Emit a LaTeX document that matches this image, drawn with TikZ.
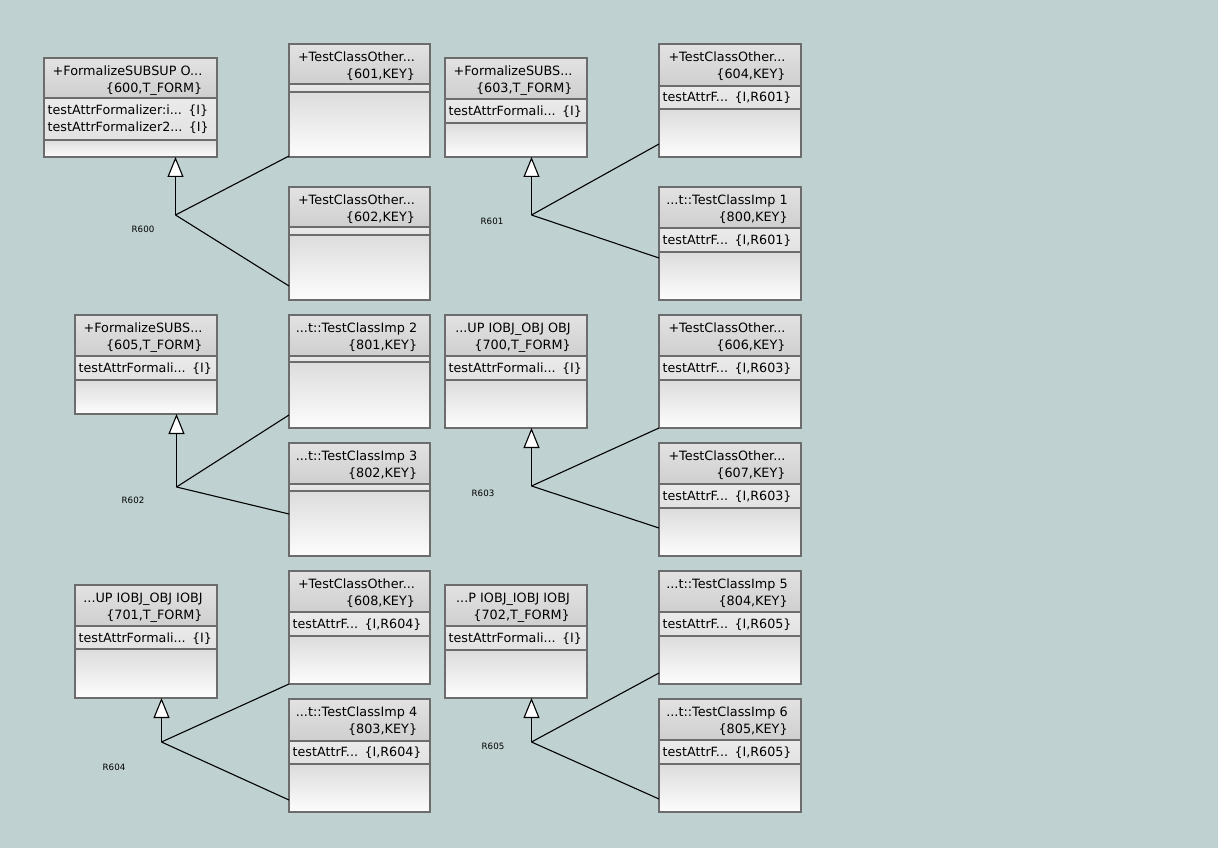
\documentclass[tikz,border=0pt]{standalone}
\usepackage{fontspec}
\setmainfont{DejaVu Sans}
\usetikzlibrary{arrows.meta,fit}

\definecolor{canvas}{RGB}{191,210,209}
\definecolor{headtop}{RGB}{226,226,226}
\definecolor{headbot}{RGB}{207,207,207}
\definecolor{attrtop}{RGB}{234,234,234}
\definecolor{attrbot}{RGB}{226,226,226}
\definecolor{bodytop}{RGB}{220,220,220}
\definecolor{bodybot}{RGB}{253,253,253}
\definecolor{framegray}{RGB}{108,108,108}

\tikzset{
  classframe/.style={draw=framegray, line width=1.5pt, inner sep=0pt, outer sep=0pt},
  divider/.style={draw=framegray, line width=1.5pt},
  headtext/.style={font=\fontsize{12.8}{15}\selectfont, inner sep=0pt, anchor=mid},
  attrtext/.style={font=\fontsize{12.7}{15}\selectfont, inner sep=0pt, anchor=mid west},
  genline/.style={draw=black, line width=1.1pt},
  genarrow/.style={genline, -{Triangle[length=20pt,width=16pt,fill=white]}},
  rlabel/.style={font=\fontsize{8.7}{10}\selectfont, inner sep=0pt},
}

% class box: name, left, top, right, header bottom, attribute bottom, bottom, title, key
\newcommand\umlclass[9]{%
  \shade[top color=headtop,bottom color=headbot] (#2,#3) rectangle (#4,#5);
  \shade[top color=attrtop,bottom color=attrbot] (#2,#5) rectangle (#4,#6);
  \shade[top color=bodytop,bottom color=bodybot] (#2,#6) rectangle (#4,#7);
  \draw[divider] (#2,#5) -- (#4,#5) (#2,#6) -- (#4,#6);
  \coordinate (#1-nw) at (#2,#3);
  \coordinate (#1-se) at (#4,#7);
  \node[classframe,fit=(#1-nw)(#1-se)] (#1) {};
  \node[headtext] (#1-title) at ({(#2+#4)/2-3},{#3+15}) {#8};
  \node[headtext,anchor=mid east] (#1-key) at ([yshift=-16.5pt]#1-title.mid east) {#9};
}

% attribute row: box, tag, left, y, name, value
\newcommand\umlattr[6]{%
  \node[attrtext] (#1-#2) at ({#3+3.5},{#4+1.5}) {#5};
  \node[attrtext] (#1-#2v) at ([xshift=6pt]#1-#2.mid east) {#6};
}

\begin{document}
\begin{tikzpicture}[x=1pt,y=-1pt]
\useasboundingbox (0,0) rectangle (1231,861);
\fill[white] (0,0) rectangle (1231,861);
\fill[canvas] (0,0) rectangle (1218,848);

% ---- row 1 ----
\umlclass{c600}{44}{58}{217}{98}{140}{157}{+FormalizeSUBSUP O...}{\{600,T\_FORM\}}
\umlattr{c600}{a}{44}{110.5}{testAttrFormalizer:i...}{\{I\}}
\umlattr{c600}{b}{44}{127.5}{testAttrFormalizer2...}{\{I\}}
\umlclass{c601}{289}{44}{430}{84}{92}{157}{+TestClassOther...}{\{601,KEY\}}
\umlclass{c602}{289}{187}{430}{227}{235}{300}{+TestClassOther...}{\{602,KEY\}}

\umlclass{c603}{445}{58}{587}{99}{123}{157}{+FormalizeSUBS...}{\{603,T\_FORM\}}
\umlattr{c603}{a}{445}{111}{testAttrFormali...}{\{I\}}
\umlclass{c604}{659}{44}{801}{86}{109}{157}{+TestClassOther...}{\{604,KEY\}}
\umlattr{c604}{a}{659}{97.5}{testAttrF...}{\{I,R601\}}
\umlclass{c800}{659}{187}{801}{228}{252}{300}{...t::TestClassImp 1}{\{800,KEY\}}
\umlattr{c800}{a}{659}{240}{testAttrF...}{\{I,R601\}}

% ---- row 2 ----
\umlclass{c605}{75}{315}{217}{356}{380}{414}{+FormalizeSUBS...}{\{605,T\_FORM\}}
\umlattr{c605}{a}{75}{368}{testAttrFormali...}{\{I\}}
\umlclass{c801}{289}{315}{430}{356}{362}{428}{...t::TestClassImp 2}{\{801,KEY\}}
\umlclass{c802}{289}{443}{430}{484}{491}{556}{...t::TestClassImp 3}{\{802,KEY\}}

\umlclass{c700}{445}{315}{587}{356}{380}{428}{...UP IOBJ\_OBJ OBJ}{\{700,T\_FORM\}}
\umlattr{c700}{a}{445}{368}{testAttrFormali...}{\{I\}}
\umlclass{c606}{659}{315}{801}{356}{380}{428}{+TestClassOther...}{\{606,KEY\}}
\umlattr{c606}{a}{659}{368}{testAttrF...}{\{I,R603\}}
\umlclass{c607}{659}{443}{801}{484}{508}{556}{+TestClassOther...}{\{607,KEY\}}
\umlattr{c607}{a}{659}{496}{testAttrF...}{\{I,R603\}}

% ---- row 3 ----
\umlclass{c701}{75}{585}{217}{626}{649}{698}{...UP IOBJ\_OBJ IOBJ}{\{701,T\_FORM\}}
\umlattr{c701}{a}{75}{638}{testAttrFormali...}{\{I\}}
\umlclass{c608}{289}{571}{430}{612}{636}{684}{+TestClassOther...}{\{608,KEY\}}
\umlattr{c608}{a}{289}{624}{testAttrF...}{\{I,R604\}}
\umlclass{c803}{289}{699}{430}{741}{764}{812}{...t::TestClassImp 4}{\{803,KEY\}}
\umlattr{c803}{a}{289}{752.5}{testAttrF...}{\{I,R604\}}

\umlclass{c702}{445}{585}{587}{626}{650}{698}{...P IOBJ\_IOBJ IOBJ}{\{702,T\_FORM\}}
\umlattr{c702}{a}{445}{638}{testAttrFormali...}{\{I\}}
\umlclass{c804}{659}{571}{801}{612}{636}{684}{...t::TestClassImp 5}{\{804,KEY\}}
\umlattr{c804}{a}{659}{624}{testAttrF...}{\{I,R605\}}
\umlclass{c805}{659}{699}{801}{740}{764}{812}{...t::TestClassImp 6}{\{805,KEY\}}
\umlattr{c805}{a}{659}{752}{testAttrF...}{\{I,R605\}}

% ---- generalisations ----
\coordinate (j600) at (175.5,215);
\draw[genarrow] (j600) -- (j600 |- c600.south);
\draw[genline] (j600) -- ([yshift=1pt]c601.south west);
\draw[genline] (j600) -- ([yshift=14pt]c602.south west);
\node[rlabel] (r600) at (143,229) {R600};

\coordinate (j601) at (531.5,215);
\draw[genarrow] (j601) -- (j601 |- c603.south);
\draw[genline] (j601) -- ([yshift=13pt]c604.south west);
\draw[genline] (j601) -- ([yshift=42pt]c800.south west);
\node[rlabel] (r601) at (492,221) {R601};

\coordinate (j602) at (176.5,487);
\draw[genarrow] (j602) -- (j602 |- c605.south);
\draw[genline] (j602) -- ([yshift=13pt]c801.south west);
\draw[genline] (j602) -- ([yshift=42pt]c802.south west);
\node[rlabel] (r602) at (133,500) {R602};

\coordinate (j603) at (531.5,486);
\draw[genarrow] (j603) -- (j603 |- c700.south);
\draw[genline] (j603) -- (c606.south west);
\draw[genline] (j603) -- ([yshift=28pt]c607.south west);
\node[rlabel] (r603) at (483,493) {R603};

\coordinate (j604) at (161.5,742);
\draw[genarrow] (j604) -- (j604 |- c701.south);
\draw[genline] (j604) -- (c608.south west);
\draw[genline] (j604) -- ([yshift=12pt]c803.south west);
\node[rlabel] (r604) at (114,767) {R604};

\coordinate (j605) at (531.5,742);
\draw[genarrow] (j605) -- (j605 |- c702.south);
\draw[genline] (j605) -- ([yshift=11pt]c804.south west);
\draw[genline] (j605) -- ([yshift=13pt]c805.south west);
\node[rlabel] (r605) at (493,746) {R605};
\end{tikzpicture}
\end{document}
